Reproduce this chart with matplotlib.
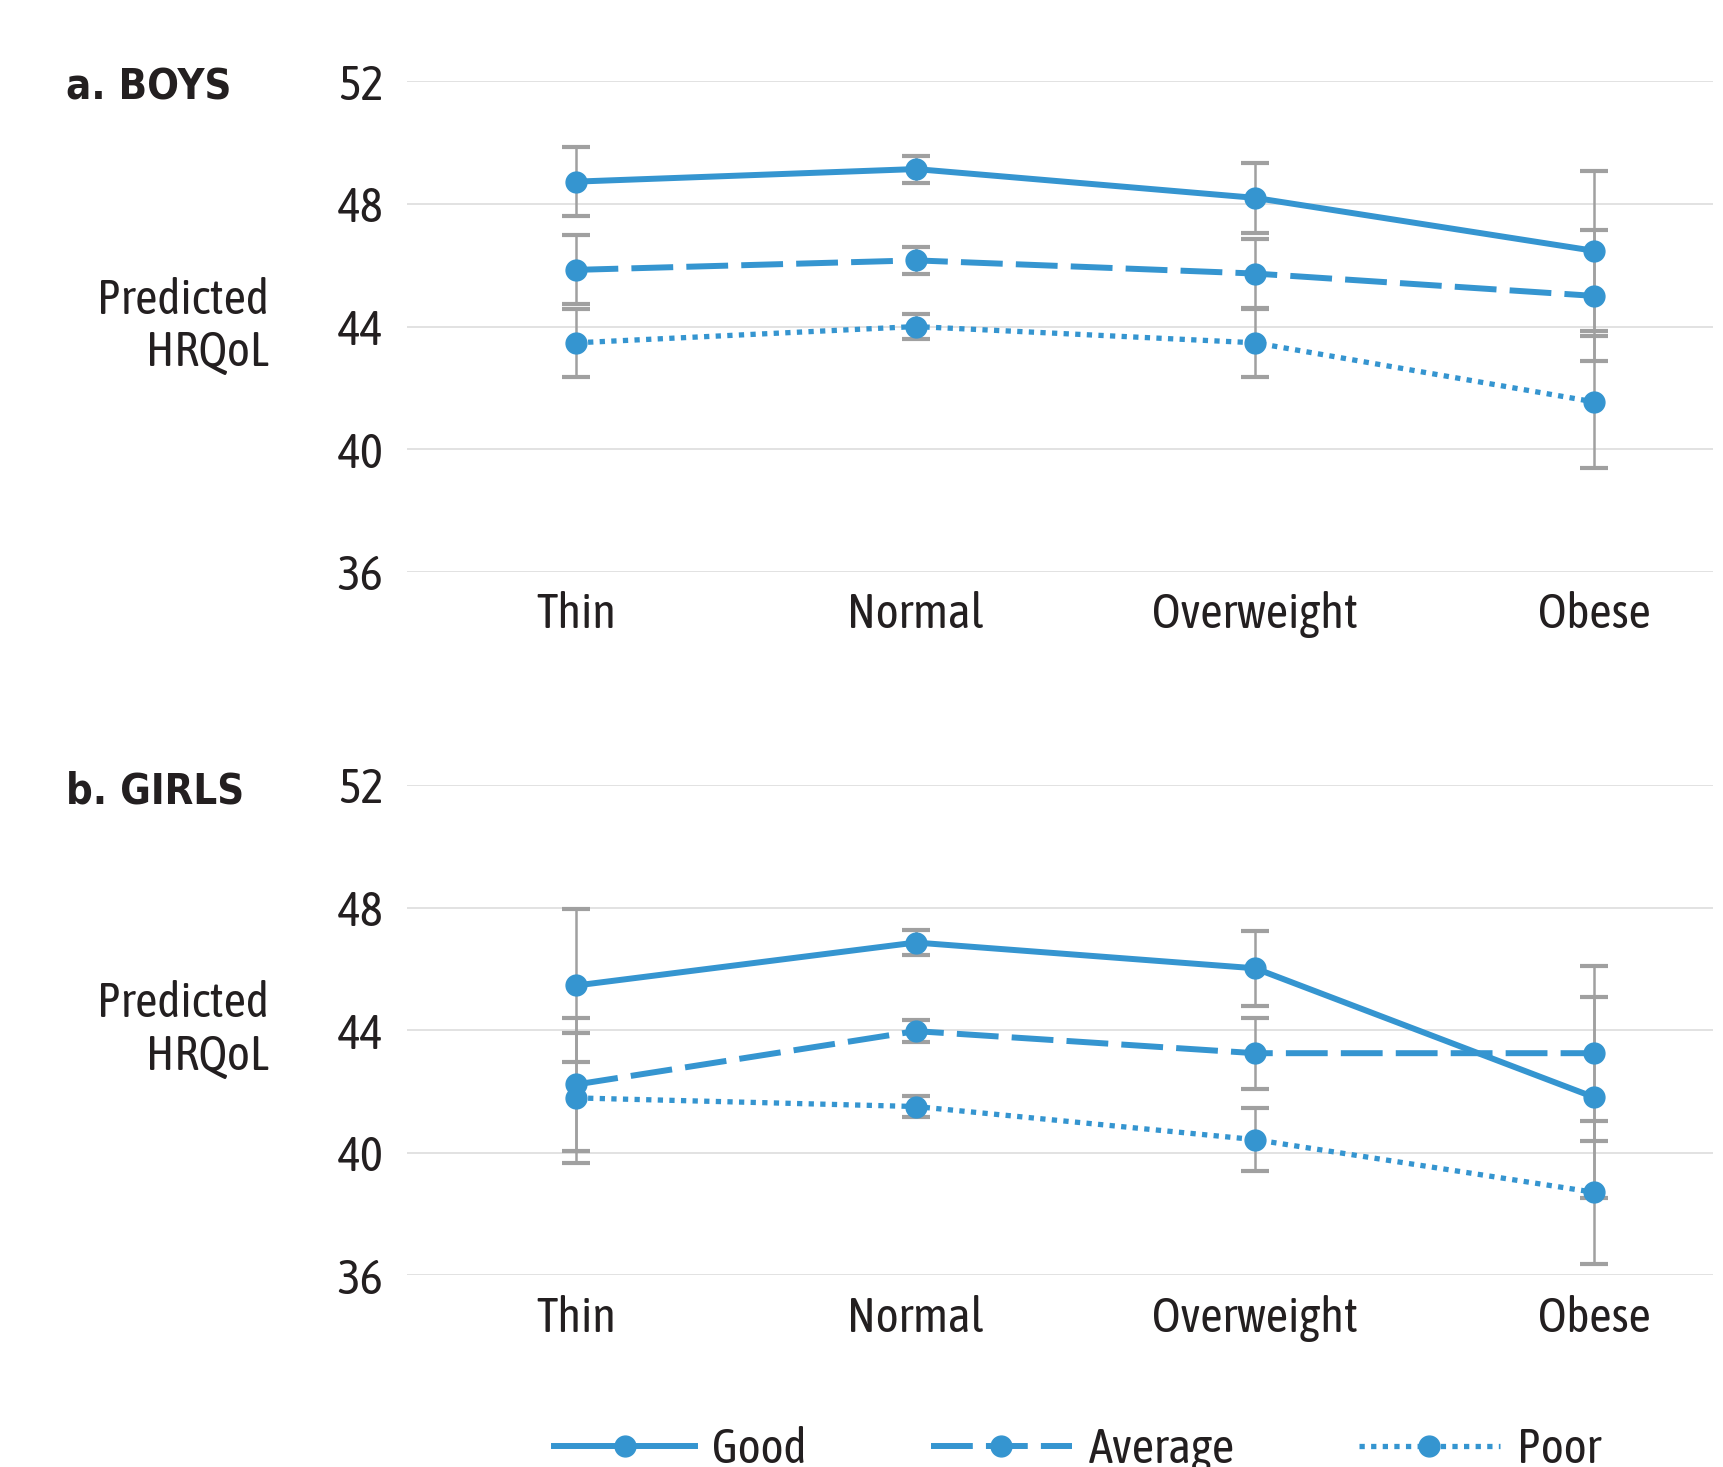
import matplotlib.pyplot as plt
from matplotlib.lines import Line2D

categories = ['Thin', 'Normal', 'Overweight', 'Obese']
series = ['Good', 'Average', 'Poor']

boys_good = [48.73, 49.14, 48.20, 46.47]
boys_good_err = [1.12, 0.44, 1.14, 2.60]
boys_average = [45.85, 46.16, 45.73, 45.00]
boys_average_err = [1.13, 0.43, 1.13, 2.14]
boys_poor = [43.47, 44.00, 43.47, 41.54]
boys_poor_err = [1.10, 0.42, 1.10, 2.16]

girls_good = [45.46, 46.86, 46.02, 41.81]
girls_good_err = [2.51, 0.40, 1.22, 3.28]
girls_average = [42.23, 43.97, 43.25, 43.25]
girls_average_err = [2.18, 0.37, 1.16, 2.86]
girls_poor = [41.79, 41.51, 40.43, 38.71]
girls_poor_err = [2.12, 0.35, 1.02, 2.34]

yticks = [36, 40, 44, 48, 52]

BLUE = '#3595D0'
GREY = '#A0A0A0'
TEXT = '#231F20'

plt.rcParams['font.family'] = ['Asap Condensed', 'DejaVu Sans']
plt.rcParams['font.stretch'] = 'condensed'

styles = {
    'Good': dict(linestyle='-', linewidth=4.3),
    'Average': dict(linestyle=(0, (7, 2.2)), linewidth=4.3),
    'Poor': dict(linestyle=(0, (1, 1.2)), linewidth=3.8),
}


def draw_panel(ax, data, title):
    x = range(len(categories))
    for name, (vals, errs) in zip(series, data):
        ax.errorbar(x, vals, yerr=errs, fmt='none', ecolor=GREY, elinewidth=1.8,
                    capsize=10, capthick=3, zorder=2)
        ax.plot(x, vals, color=BLUE, marker='o', markersize=15,
                solid_capstyle='butt', dash_capstyle='butt', zorder=3, **styles[name])
    ax.set_xlim(-0.5, 3.35)
    ax.set_ylim(36, 52)
    ax.set_yticks(yticks)
    ax.set_xticks(list(x))
    ax.set_xticklabels(categories)
    ax.grid(axis='y', color='#DADADA', linewidth=1.1)
    ax.set_axisbelow(True)
    for s in ax.spines.values():
        s.set_visible(False)
    ax.tick_params(axis='y', length=0, pad=17, labelsize=35, labelcolor=TEXT)
    ax.tick_params(axis='x', length=0, pad=14, labelsize=35, labelcolor=TEXT)
    ax.text(-0.106, 44, 'Predicted\nHRQoL', transform=ax.get_yaxis_transform(),
            ha='right', va='center', fontsize=35, color=TEXT, linespacing=1.15)
    ax.text(-0.261, 51.8, title, transform=ax.get_yaxis_transform(),
            ha='left', va='center', fontsize=30, fontweight='bold', color=TEXT,
            family='DejaVu Sans', fontstretch='condensed')


fig = plt.figure(figsize=(17.24, 14.67), dpi=100)
ax1 = fig.add_axes([0.236, 0.6103, 0.7576, 0.3342])
ax2 = fig.add_axes([0.236, 0.1306, 0.7576, 0.3343])

draw_panel(ax1, [(boys_good, boys_good_err), (boys_average, boys_average_err),
                 (boys_poor, boys_poor_err)], 'a. BOYS')
draw_panel(ax2, [(girls_good, girls_good_err), (girls_average, girls_average_err),
                 (girls_poor, girls_poor_err)], 'b. GIRLS')

handles = [Line2D([], [], color=BLUE, marker='o', markersize=15, **styles[n]) for n in series]
fig.legend(handles, series, loc='center', bbox_to_anchor=(0.625, 0.012), ncol=3,
           frameon=False, fontsize=35, handlelength=2.9, handletextpad=0.35,
           columnspacing=2.55, numpoints=1, labelcolor=TEXT)

fig.savefig('out.png', dpi=100)
